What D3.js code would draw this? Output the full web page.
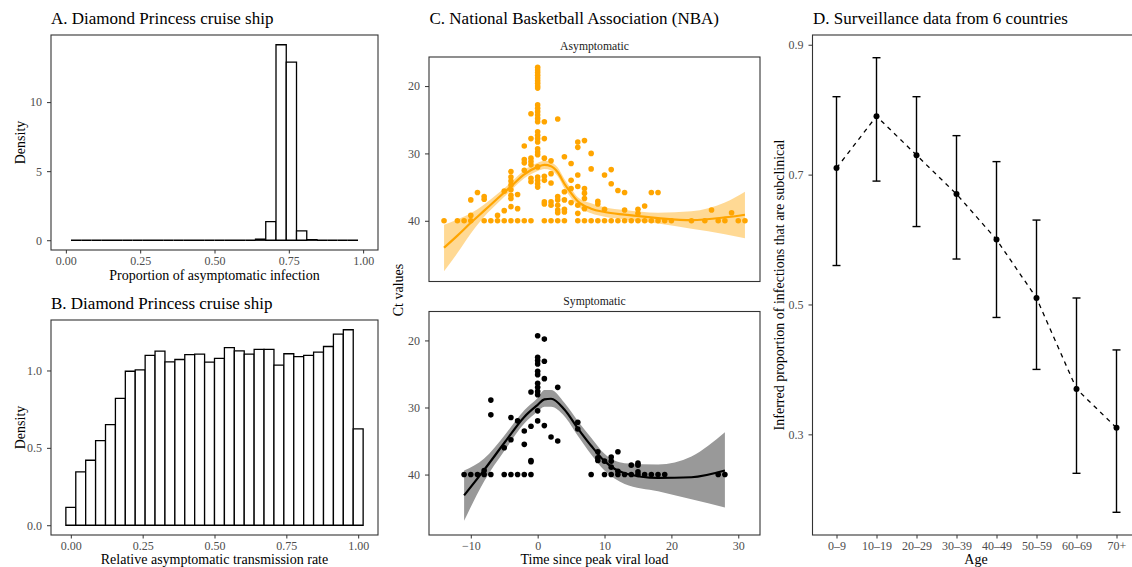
<!DOCTYPE html>
<html>
<head>
<meta charset="utf-8">
<script src="https://cdn.jsdelivr.net/npm/d3@7"></script>
<style>
  body { margin: 0; background: #fff; }
  svg { display: block; }
</style>
</head>
<body>
<svg id="chart" width="1132" height="567"></svg>
<script>
// ---------------- data ----------------
// A: posterior of the asymptomatic proportion (histogram densities, 28 bins of width 1/29)
const aBinWidth = 1 / 29;
const aBinStart = 1 / 58;
const aDensity = [0, 0, 0, 0, 0, 0, 0, 0, 0, 0, 0, 0, 0, 0, 0, 0, 0, 0,
                  0.08, 1.35, 14.15, 12.9, 0.67, 0.04, 0, 0, 0, 0];
const aTicks = [0, 0.25, 0.5, 0.75, 1];
const aYTicks = [0, 5, 10];

// B: relative asymptomatic transmission rate (30 bins of width 1/29)
const bBinWidth = 1 / 29;
const bBinStart = -1 / 58;
const bDensity = [0.116, 0.345, 0.42, 0.547, 0.65, 0.82, 0.995, 1.004, 1.097, 1.125,
                  1.056, 1.071, 1.103, 1.105, 1.054, 1.078, 1.147, 1.127, 1.105, 1.136,
                  1.136, 1.034, 1.108, 1.09, 1.097, 1.118, 1.155, 1.235, 1.263, 0.623];
const bTicks = [0, 0.25, 0.5, 0.75, 1];
const bYTicks = [0, 0.5, 1.0];

// C: NBA Ct values by day since peak viral load
const asymDays = [
  -14,-12,-11,-10,-8,-7,-6,-5,-4,-3,-2,-1,1,2,3,4,6,7,8,9,10,11,12,13,14,15,16,17,18,19,20,23,25,27,28,30,31,
  -10,-10,-9,-8,-8,-6,-5,-5,
  -4,-4,-4,-4,-4,-4,-4,-4,
  -3,-3,-2,-2,-2,-2,
  -1,-1,-1,-1,-1,-1,-1,
  0,0,0,0,0,0,0,0,0,0,0,0,0,0,0,0,0,0,0,0,0,0,0,0,0,0,0,
  1,1,1,1,1,1,1,
  2,2,2,2,2,
  3,3,3,3,3,3,
  4,4,4,4,4,
  5,5,5,5,
  6,6,6,6,6,6,
  7,7,7,7,7,
  8,8,9,9,10,10,11,11,12,13,13,15,15,16,17,18,26,29
];
const asymCt = [
  40,40,40,40,40,40,40,40,40,40,40,40,40,40,40,40,40,40,40,40,40,40,40,40,40,40,40,40,40,40,40,40,40,40,40,40,40,
  36.9,39.2,35.8,36.4,36.8,39.2,35.6,38.5,
  32.7,33.5,34.1,34.7,35.4,36.2,36.7,37.9,
  36.1,38.2,28.9,30.9,31.4,32.5,
  24.1,27.8,30.7,31.2,31.7,33.7,34.2,
  17.2,17.6,18.0,18.4,18.8,19.2,19.6,20.0,20.3,22.8,23.3,23.8,24.3,24.8,25.3,26.8,27.3,27.8,28.3,29.3,29.8,30.2,32.0,33.5,34.0,34.5,35.0,
  25.3,27.8,30.7,33.4,34.0,37.2,37.5,
  31.1,33.0,34.4,37.2,37.7,
  24.9,36.4,36.9,37.7,38.4,38.8,
  30.5,35.7,36.9,38.3,38.7,
  31.5,34.0,35.2,37.3,
  28.3,29.1,33.2,34.9,37.7,38.9,
  28.1,35.2,35.9,36.7,38.2,
  30.0,32.3,37.1,37.5,33.2,38.3,32.4,34.5,35.5,35.8,38.4,38.3,38.9,37.8,35.8,35.8,38.4,38.8
];
// loess fit for asymptomatic players (estimate and 95% band)
const asymFitDay = [-14,-12,-10,-8,-6,-4,-2,0,1,2,3,4,5,6,8,10,13,18,23,28,31];
const asymFit    = [44.0,42.2,40.3,38.5,36.7,34.9,33.1,32.0,31.7,31.9,32.8,34.5,35.9,37.1,38.2,38.7,39.1,39.6,39.9,39.5,39.1];
const asymFitLo  = [40.6,39.8,38.9,37.6,36.0,34.3,32.5,31.4,31.1,31.3,32.1,33.8,35.2,36.5,37.4,38.0,38.4,38.8,38.6,37.3,35.7];
const asymFitHi  = [47.5,44.8,41.9,39.4,37.4,35.5,33.7,32.6,32.3,32.5,33.4,35.2,36.6,37.8,38.9,39.4,39.8,40.4,41.2,42.0,42.6];

const symDays = [
  -11,-10,-9,-8,-7,-5,-4,-3,-2,-1,8,10,11,12,13,14,15,16,17,18,19,27,28,
  -8,-7,-7,-5,-4,-4,-3,-2,-2,-1,-1,-1,-1,
  0,0,0,0,0,0,0,0,0,0,0,0,
  1,1,1,1,2,3,3,6,6,9,9,9,10,11,11,11,12,12,14,15,15,15
];
const symCt = [
  40,40,40,40,40,40,40,40,40,40,40,40,40,40,40,40,40,40,40,40,40,40,40,
  39.4,28.9,31.1,36.0,31.5,34.8,32.0,33.5,35.5,27.7,32.8,37.9,38.1,
  19.3,22.5,23.0,23.5,24.6,25.1,26.4,27.0,27.6,28.1,30.5,32.0,
  19.8,23.1,25.7,32.7,34.4,27.0,35.0,32.2,33.2,36.6,37.5,37.9,38.0,37.4,38.0,38.9,36.6,39.5,38.6,38.3,38.6,39.6
];
// loess fit for symptomatic players
const symFitDay = [-11,-8,-5,-2,0,1,2,4,6,8,10,13,18,23,28];
const symFit    = [43.1,39.3,35.3,31.4,29.6,28.8,28.7,30.3,33.1,35.7,38.0,39.8,40.5,40.4,39.4];
const symFitLo  = [39.4,37.6,34.2,30.4,28.6,27.4,27.4,29.3,32.0,34.5,36.9,38.3,38.5,37.3,33.7];
const symFitHi  = [46.9,41.0,36.5,32.4,30.6,29.9,29.9,31.3,34.2,37.0,39.4,41.4,42.5,43.7,44.9];
const cXTicks = [-10, 0, 10, 20, 30];
const cYTicks = [20, 30, 40];

// D: surveillance estimates by age group
const ageGroups = ["0–9", "10–19", "20–29", "30–39", "40–49", "50–59", "60–69", "70+"];
const subclinical = [0.71, 0.79, 0.73, 0.67, 0.60, 0.51, 0.37, 0.31];
const subclinicalLo = [0.56, 0.69, 0.62, 0.57, 0.48, 0.40, 0.24, 0.18];
const subclinicalHi = [0.82, 0.88, 0.82, 0.76, 0.72, 0.63, 0.51, 0.43];
const dYTicks = [0.3, 0.5, 0.7, 0.9];

// ---------------- helpers ----------------
const FONT = "'Liberation Serif', 'Times New Roman', Times, serif";
const TICK_SIZE = 12, AXIS_TITLE = 14, TITLE = 17;
const X_TICK_LEN = 3.5, X_TICK_PAD = 2.5;
const BOTTOM_TITLE_Y = 564;
const svg = d3.select("#chart").style("font-family", FONT);
const minus = s => s.replace("-", "\u2212");

function expand(lo, hi, f = 0.05) {
  const d = (hi - lo) * f;
  return [lo - d, hi + d];
}
function box(x0, y0, x1, y1) {
  svg.append("rect")
    .attr("x", x0).attr("y", y0).attr("width", x1 - x0).attr("height", y1 - y0)
    .attr("fill", "none").attr("stroke", "#333").attr("stroke-width", 1.1);
}
function styleAxis(g) {
  g.attr("font-family", FONT).attr("font-size", TICK_SIZE);
  g.select(".domain").remove();
  g.selectAll(".tick line").attr("stroke", "#333").attr("stroke-width", 1);
  g.selectAll(".tick text").attr("fill", "#4d4d4d");
}
function title(x, y, text) {
  svg.append("text").attr("x", x).attr("y", y).attr("font-size", TITLE)
    .attr("fill", "#000").text(text);
}
function xTitle(cx, y, text) {
  svg.append("text").attr("x", cx).attr("y", y).attr("text-anchor", "middle")
    .attr("font-size", AXIS_TITLE).attr("fill", "#000").text(text);
}
function yTitle(x, cy, text) {
  svg.append("text").attr("transform", `translate(${x},${cy}) rotate(-90)`)
    .attr("text-anchor", "middle").attr("font-size", AXIS_TITLE).attr("fill", "#000").text(text);
}
function histogram(x0, y0, x1, y1, start, width, dens, xDom, xTicks, yTicks, yFmt) {
  const xs = d3.scaleLinear().domain(xDom).range([x0, x1]);
  const ys = d3.scaleLinear().domain(expand(0, d3.max(dens))).range([y1, y0]);
  const g = svg.append("g");
  dens.forEach((d, i) => {
    const l = xs(start + i * width), r = xs(start + (i + 1) * width);
    const b = ys(0), t = ys(d);
    g.append("path").attr("d", `M${l},${b}V${t}H${r}V${b}Z`)
      .attr("fill", "#fff").attr("stroke", "#000").attr("stroke-width", 1.3)
      .attr("stroke-linejoin", "miter");
  });
  box(x0, y0, x1, y1);
  svg.append("g").attr("transform", `translate(0,${y1})`)
    .call(d3.axisBottom(xs).tickValues(xTicks).tickFormat(d3.format(".2f")).tickSize(X_TICK_LEN).tickPadding(X_TICK_PAD))
    .call(styleAxis);
  svg.append("g").attr("transform", `translate(${x0},0)`)
    .call(d3.axisLeft(ys).tickValues(yTicks).tickFormat(yFmt).tickSize(4).tickPadding(5))
    .call(styleAxis);
}

// ---------------- panel A ----------------
title(51, 24, "A. Diamond Princess cruise ship");
histogram(51, 35, 378, 250, aBinStart, aBinWidth, aDensity, expand(0, 1), aTicks, aYTicks, d3.format("d"));
xTitle(214.5, 280, "Proportion of asymptomatic infection");
yTitle(25, 142.5, "Density");

// ---------------- panel B ----------------
title(51, 309, "B. Diamond Princess cruise ship");
histogram(51, 320, 378, 535, bBinStart, bBinWidth, bDensity,
  expand(bBinStart, bBinStart + bDensity.length * bBinWidth), bTicks, bYTicks, d3.format(".1f"));
xTitle(214.5, BOTTOM_TITLE_Y, "Relative asymptomatic transmission rate");
yTitle(25, 427.5, "Density");

// ---------------- panel C ----------------
title(429.5, 24, "C. National Basketball Association (NBA)");
const cx0 = 429, cx1 = 760;
const allDays = asymDays.concat(symDays);
const cXs = d3.scaleLinear().domain(expand(d3.min(allDays), d3.max(allDays))).range([cx0, cx1]);
const ctMin = d3.min(asymCt.concat(symCt, asymFitLo, symFitLo));
const ctMax = d3.max(asymCt.concat(symCt, asymFitHi, symFitHi));
const ctDom = expand(ctMin, ctMax);

function facet(y0, y1, label, days, ct, fd, fit, lo, hi, col, fill, showX) {
  const ys = d3.scaleLinear().domain(ctDom).range([y0, y1]);
  svg.append("text").attr("x", (cx0 + cx1) / 2).attr("y", y0 - 7)
    .attr("text-anchor", "middle").attr("font-size", 11.7).attr("fill", "#1a1a1a").text(label);
  const band = fd.map((d, i) => ({ d, f: fit[i], lo: lo[i], hi: hi[i] }));
  svg.append("path").datum(band)
    .attr("d", d3.area().x(p => cXs(p.d)).y0(p => ys(p.lo)).y1(p => ys(p.hi)).curve(d3.curveMonotoneX))
    .attr("fill", fill);
  svg.append("g").selectAll("circle").data(days.map((d, i) => [d, ct[i]])).join("circle")
    .attr("cx", p => cXs(p[0])).attr("cy", p => ys(p[1])).attr("r", 2.8).attr("fill", col);
  svg.append("path").datum(band)
    .attr("d", d3.line().x(p => cXs(p.d)).y(p => ys(p.f)).curve(d3.curveMonotoneX))
    .attr("fill", "none").attr("stroke", col).attr("stroke-width", 2.2);
  box(cx0, y0, cx1, y1);
  svg.append("g").attr("transform", `translate(${cx0},0)`)
    .call(d3.axisLeft(ys).tickValues(cYTicks).tickFormat(d3.format("d")).tickSize(4).tickPadding(5))
    .call(styleAxis);
  if (showX) {
    svg.append("g").attr("transform", `translate(0,${y1})`)
      .call(d3.axisBottom(cXs).tickValues(cXTicks).tickFormat(d => minus(String(d)))
        .tickSize(X_TICK_LEN).tickPadding(X_TICK_PAD))
      .call(styleAxis);
  }
}
facet(57, 281.5, "Asymptomatic", asymDays, asymCt, asymFitDay, asymFit, asymFitLo, asymFitHi,
  "#FFA500", "rgba(255,165,0,0.42)", false);
facet(311.5, 535, "Symptomatic", symDays, symCt, symFitDay, symFit, symFitLo, symFitHi,
  "#000", "#999999", true);
xTitle((cx0 + cx1) / 2, BOTTOM_TITLE_Y, "Time since peak viral load");
yTitle(403, 290, "Ct values");

// ---------------- panel D ----------------
title(813, 24, "D. Surveillance data from 6 countries");
const dx0 = 812.5, dx1 = 1140.5, dy0 = 35, dy1 = 535;
const dXs = d3.scalePoint().domain(ageGroups).range([dx0, dx1]).padding(0.6);
const dYs = d3.scaleLinear()
  .domain(expand(d3.min(subclinicalLo), d3.max(subclinicalHi))).range([dy1, dy0]);
const dg = svg.append("g");
dg.append("path").datum(ageGroups.map((a, i) => [a, subclinical[i]]))
  .attr("d", d3.line().x(p => dXs(p[0])).y(p => dYs(p[1])))
  .attr("fill", "none").attr("stroke", "#000").attr("stroke-width", 1.3).attr("stroke-dasharray", "4.5,4.5");
const capHalf = dXs.step() * 0.1;
ageGroups.forEach((a, i) => {
  const x = dXs(a);
  dg.append("line").attr("x1", x).attr("x2", x).attr("y1", dYs(subclinicalLo[i])).attr("y2", dYs(subclinicalHi[i]))
    .attr("stroke", "#000").attr("stroke-width", 1.4);
  [subclinicalLo[i], subclinicalHi[i]].forEach(v => {
    dg.append("line").attr("x1", x - capHalf).attr("x2", x + capHalf).attr("y1", dYs(v)).attr("y2", dYs(v))
      .attr("stroke", "#000").attr("stroke-width", 1.4);
  });
  dg.append("circle").attr("cx", x).attr("cy", dYs(subclinical[i])).attr("r", 3).attr("fill", "#000");
});
box(dx0, dy0, dx1, dy1);
svg.append("g").attr("transform", `translate(0,${dy1})`)
  .call(d3.axisBottom(dXs).tickSize(X_TICK_LEN).tickPadding(X_TICK_PAD))
  .call(styleAxis);
svg.append("g").attr("transform", `translate(${dx0},0)`)
  .call(d3.axisLeft(dYs).tickValues(dYTicks).tickFormat(d3.format(".1f")).tickSize(4).tickPadding(5))
  .call(styleAxis);
xTitle(976, BOTTOM_TITLE_Y, "Age");
yTitle(783.5, 285, "Inferred proportion of infections that are subclinical");
</script>
</body>
</html>
